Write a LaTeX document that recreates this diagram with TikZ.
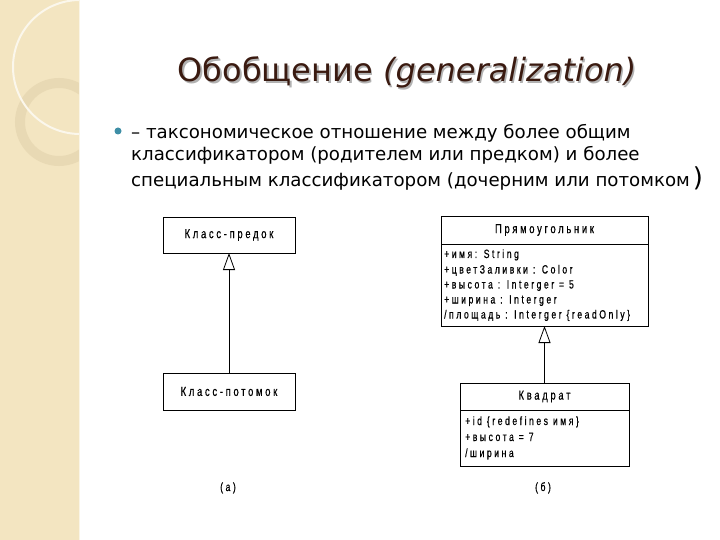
\documentclass[tikz,border=0pt]{standalone}
\usepackage{fontspec}
\setmainfont{DejaVu Sans}
\newfontfamily\umlfont[FakeStretch=0.72,FakeBold=0.6,LetterSpace=21]{Liberation Sans}
\newfontfamily\umlname[FakeStretch=0.72,FakeBold=0.6,LetterSpace=21]{Liberation Sans}
\usetikzlibrary{arrows.meta,positioning}
\definecolor{paper}{HTML}{F3E5C1}
\definecolor{ringtan}{HTML}{E2D2AC}
\definecolor{titlebrown}{HTML}{3A1A10}
\definecolor{bulletblue}{HTML}{3E8EA6}
\tikzset{
  classbox/.style={draw, line width=0.8pt, outer sep=0pt, inner sep=0pt,
    font=\umlname\fontsize{13}{15}\selectfont},
  attr/.style={anchor=base west, inner sep=0pt, font=\umlfont\fontsize{12}{14}\selectfont},
  gen/.style={line width=0.8pt, -{Triangle[open,width=12pt,length=17pt,fill=white]}},
  bodytext/.style={anchor=base west, inner sep=0pt, font=\fontsize{18.2}{22}\selectfont},
  titletext/.style={anchor=base, inner sep=0pt, font=\fontsize{32}{36}\selectfont}
}
\begin{document}
\begin{tikzpicture}[x=1pt,y=-1pt]
\useasboundingbox (0,0) rectangle (720,540);
\fill[white] (0,0) rectangle (720,540);
\fill[paper] (0,0) rectangle (79,540);
\begin{scope}
  \clip (0,0) rectangle (79,540);
  \draw[ringtan, line width=10pt, opacity=0.6] (59,122) circle[radius=39];
  \draw[white!70!paper, line width=2pt] (80,67) circle[radius=67];
  \draw[ringtan!80!black, line width=0.4pt] (63,0) arc[start angle=0, end angle=-90, radius=63];
\end{scope}
\draw[white!60!paper, line width=0.8pt] (79,0) -- (79,540);

\node[titletext, text=black!30] (titleshadow) at (408.5,83.5)
  {Обобщение \textit{(generalization)}};
\node[titletext, text=titlebrown] (title) at (407,82)
  {Обобщение \textit{(generalization)}};

\fill[bulletblue] (118,131) circle[radius=3.5];
\node[bodytext] (line1) at (131,139) {– таксономическое отношение между более общим};
\node[bodytext] (line2) at (131,161) {классификатором (родителем или предком) и более};
\node[bodytext] (line3) at (131,187) {специальным классификатором (дочерним или потомком\,{\fontsize{26}{26}\selectfont)}};

\node[classbox, minimum width=132pt, minimum height=36pt] (predok) at (229,235) {Класс-предок};
\node[classbox, minimum width=132pt, minimum height=37pt] (potomok) at (229,391.5) {Класс-потомок};
\draw[gen] (potomok) -- (predok);

\node[classbox, minimum width=207pt, minimum height=28pt] (rect) at (544.5,230) {Прямоугольник};
\node[classbox, minimum width=207pt, minimum height=82pt, below=0pt of rect] (rectattr) {};
\node[attr] (r1) at (444,258) {+имя: String};
\node[attr] (r2) at (444,273.5) {+цветЗаливки : Color};
\node[attr] (r3) at (444,288.5) {+высота : Interger = 5};
\node[attr] (r4) at (444,303.5) {+ширина : Interger};
\node[attr] (r5) at (444,318.5) {/площадь : Interger \{readOnly\}};

\node[classbox, minimum width=169pt, minimum height=27pt] (kvadrat) at (544.5,396.5) {Квадрат};
\node[classbox, minimum width=169pt, minimum height=56pt, below=0pt of kvadrat] (kvadratattr) {};
\node[attr] (k1) at (465,425) {+id \{redefines имя\}};
\node[attr] (k2) at (465,441) {+высота = 7};
\node[attr] (k3) at (465,457) {/ширина};
\draw[gen] (kvadrat.north) -- (rectattr.south);

\node[attr, anchor=base] (capa) at (228,491) {(а)};
\node[attr, anchor=base] (capb) at (543,491) {(б)};
\end{tikzpicture}
\end{document}
